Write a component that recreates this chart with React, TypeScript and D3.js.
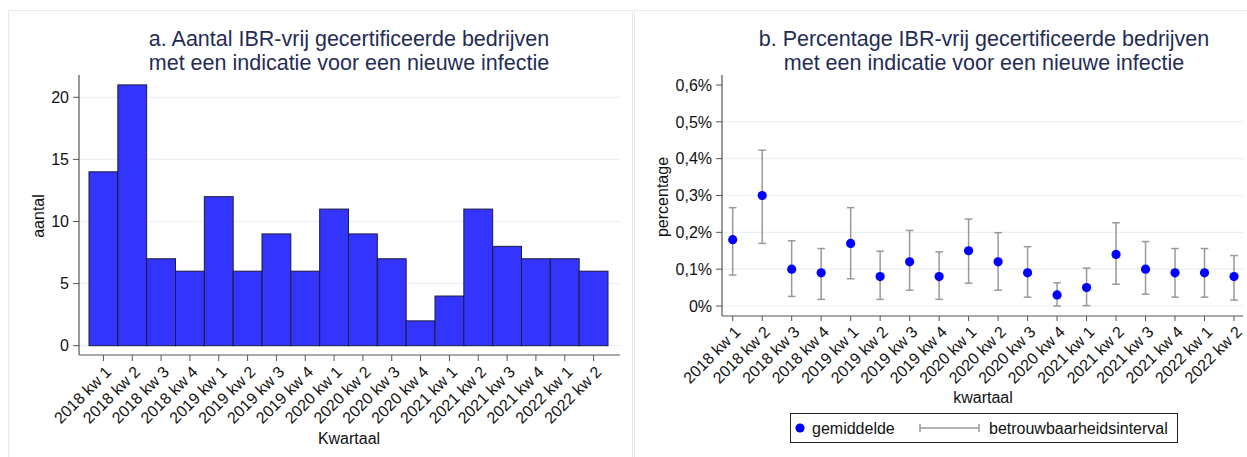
import React from "react";
import * as d3 from "d3";

const categories = [
  "2018 kw 1", "2018 kw 2", "2018 kw 3", "2018 kw 4",
  "2019 kw 1", "2019 kw 2", "2019 kw 3", "2019 kw 4",
  "2020 kw 1", "2020 kw 2", "2020 kw 3", "2020 kw 4",
  "2021 kw 1", "2021 kw 2", "2021 kw 3", "2021 kw 4",
  "2022 kw 1", "2022 kw 2",
];
const counts = [14, 21, 7, 6, 12, 6, 9, 6, 11, 9, 7, 2, 4, 11, 8, 7, 7, 6];
const meanPct = [0.18, 0.30, 0.10, 0.09, 0.17, 0.08, 0.12, 0.08, 0.15, 0.12, 0.09, 0.03, 0.05, 0.14, 0.10, 0.09, 0.09, 0.08];
const lowerPct = [0.084, 0.170, 0.026, 0.018, 0.074, 0.018, 0.043, 0.018, 0.062, 0.043, 0.024, 0.0, 0.001, 0.059, 0.032, 0.024, 0.024, 0.016];
const upperPct = [0.267, 0.423, 0.177, 0.156, 0.267, 0.149, 0.205, 0.147, 0.236, 0.199, 0.161, 0.063, 0.103, 0.226, 0.175, 0.156, 0.156, 0.137];
const countTicks = [0, 5, 10, 15, 20];
const pctTicks = [0, 0.1, 0.2, 0.3, 0.4, 0.5, 0.6];

const FONT = "'Liberation Sans', Arial, sans-serif";
const TITLE_COLOR = "#1f2d56";
const GRID = "#e9f0f2";
const AXIS = "#555";
const PANEL = "#e6ecee";
const FS = 16;
const TFS = 21.5;

export default function App() {
  // Left chart
  const xL = d3.scaleBand<string>().domain(categories).range([89, 608]).padding(0);
  const yL = d3.scaleLinear().domain([0, 20]).range([345.7, 97.3]);
  const axL = { x0: 79, x1: 620, yTop: 75, yBase: 355 };

  // Right chart
  const xR = d3.scalePoint<string>().domain(categories).range([732.7, 1234]);
  const yR = d3.scaleLinear().domain([0, 0.6]).range([306, 85]);
  const axR = { x0: 722, x1: 1243, yTop: 75, yBase: 316 };
  const fmtPct = (v: number) => (v === 0 ? "0%" : d3.format(".1f")(v).replace(".", ",") + "%");

  return (
    <svg width={1247} height={457} style={{ position: "absolute", left: 0, top: 0, background: "#fff" }} fontFamily={FONT}>
      {/* panel frames */}
      <rect x={8.5} y={10.5} width={624} height={460} fill="none" stroke={PANEL} />
      <rect x={634.5} y={10.5} width={620} height={460} fill="none" stroke={PANEL} />

      {/* ===== Left chart ===== */}
      <text x={349} y={46} textAnchor="middle" fontSize={TFS} fill={TITLE_COLOR}>a. Aantal IBR-vrij gecertificeerde bedrijven</text>
      <text x={349} y={69.5} textAnchor="middle" fontSize={TFS} fill={TITLE_COLOR}>met een indicatie voor een nieuwe infectie</text>

      {countTicks.map((t) => (
        <g key={"gl" + t}>
          <line x1={axL.x0} x2={axL.x1} y1={yL(t)} y2={yL(t)} stroke={GRID} strokeWidth={1.2} />
          <line x1={axL.x0 - 6} x2={axL.x0} y1={yL(t)} y2={yL(t)} stroke={AXIS} strokeWidth={1} />
          <text x={axL.x0 - 10} y={yL(t)} dy="0.36em" textAnchor="end" fontSize={FS} fill="#111">{t}</text>
        </g>
      ))}

      {categories.map((c, i) => (
        <rect key={"bar" + c} x={xL(c)!} y={yL(counts[i])} width={xL.bandwidth()} height={yL(0) - yL(counts[i])}
          fill="#3434ff" stroke="#1b1b3d" strokeWidth={1} />
      ))}

      <line x1={axL.x0} x2={axL.x0} y1={axL.yTop} y2={axL.yBase} stroke={AXIS} strokeWidth={1.2} />
      <line x1={axL.x0} x2={axL.x1} y1={axL.yBase} y2={axL.yBase} stroke={AXIS} strokeWidth={1.2} />
      {categories.map((c) => {
        const x = xL(c)! + xL.bandwidth() / 2;
        return (
          <g key={"xtl" + c}>
            <line x1={x} x2={x} y1={axL.yBase} y2={axL.yBase + 6} stroke={AXIS} />
            <text transform={`translate(${x + 1},${axL.yBase + 10}) rotate(-45)`} textAnchor="end" dy="0.7em" fontSize={FS} fill="#111">{c}</text>
          </g>
        );
      })}
      <text transform={`translate(38,216) rotate(-90)`} textAnchor="middle" dy="0.35em" fontSize={FS} fill="#111">aantal</text>
      <text x={349} y={438} textAnchor="middle" dy="0.35em" fontSize={FS} fill="#111">Kwartaal</text>

      {/* ===== Right chart ===== */}
      <text x={984} y={46} textAnchor="middle" fontSize={TFS} fill={TITLE_COLOR}>b. Percentage IBR-vrij gecertificeerde bedrijven</text>
      <text x={984} y={69.5} textAnchor="middle" fontSize={TFS} fill={TITLE_COLOR}>met een indicatie voor een nieuwe infectie</text>

      {pctTicks.map((t) => (
        <g key={"gr" + t}>
          {t < 0.6 && <line x1={axR.x0} x2={axR.x1} y1={yR(t)} y2={yR(t)} stroke={GRID} strokeWidth={1.2} />}
          <line x1={axR.x0 - 6} x2={axR.x0} y1={yR(t)} y2={yR(t)} stroke={AXIS} strokeWidth={1} />
          <text x={axR.x0 - 10} y={yR(t)} dy="0.36em" textAnchor="end" fontSize={FS} fill="#111">{fmtPct(t)}</text>
        </g>
      ))}

      {categories.map((c, i) => {
        const x = xR(c)!;
        return (
          <g key={"eb" + c} stroke="#999" strokeWidth={1.5}>
            <line x1={x} x2={x} y1={yR(lowerPct[i])} y2={yR(upperPct[i])} />
            <line x1={x - 3.8} x2={x + 3.8} y1={yR(lowerPct[i])} y2={yR(lowerPct[i])} />
            <line x1={x - 3.8} x2={x + 3.8} y1={yR(upperPct[i])} y2={yR(upperPct[i])} />
          </g>
        );
      })}
      {categories.map((c, i) => (
        <circle key={"pt" + c} cx={xR(c)!} cy={yR(meanPct[i])} r={4.6} fill="#0000ff" />
      ))}

      <line x1={axR.x0} x2={axR.x0} y1={axR.yTop} y2={axR.yBase} stroke={AXIS} strokeWidth={1.2} />
      <line x1={axR.x0} x2={axR.x1} y1={axR.yBase} y2={axR.yBase} stroke={AXIS} strokeWidth={1.2} />
      {categories.map((c) => {
        const x = xR(c)!;
        return (
          <g key={"xtr" + c}>
            <line x1={x} x2={x} y1={axR.yBase} y2={axR.yBase + 5} stroke={AXIS} />
            <text transform={`translate(${x + 1},${axR.yBase + 9}) rotate(-45)`} textAnchor="end" dy="0.7em" fontSize={FS} fill="#111">{c}</text>
          </g>
        );
      })}
      <text transform={`translate(662,197) rotate(-90)`} textAnchor="middle" dy="0.35em" fontSize={FS} fill="#111">percentage</text>
      <text x={983} y={397} textAnchor="middle" dy="0.35em" fontSize={FS} fill="#111">kwartaal</text>

      {/* legend */}
      <rect x={790.5} y={413.5} width={387} height={29} fill="#fff" stroke="#222" strokeWidth={1} />
      <circle cx={800} cy={428} r={4.6} fill="#0000ff" />
      <text x={812} y={428} dy="0.35em" fontSize={FS} fill="#111">gemiddelde</text>
      <g stroke="#999" strokeWidth={1.5}>
        <line x1={920} x2={979} y1={428} y2={428} />
        <line x1={920} x2={920} y1={424} y2={432} />
        <line x1={979} x2={979} y1={424} y2={432} />
      </g>
      <text x={989} y={428} dy="0.35em" fontSize={FS} fill="#111">betrouwbaarheidsinterval</text>
    </svg>
  );
}
